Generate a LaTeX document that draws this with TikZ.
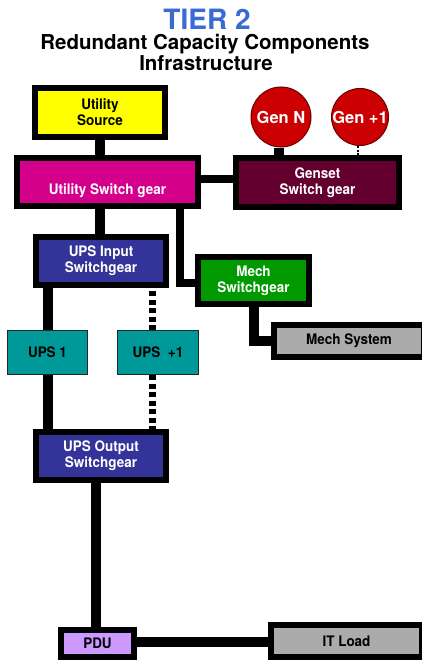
\documentclass[tikz,border=0pt]{standalone}
\usepackage{fontspec}
\setmainfont{TeX Gyre Heros}
\newfontfamily\condfont[FakeStretch=0.93]{TeX Gyre Heros}
\usetikzlibrary{backgrounds}
\definecolor{titleblue}{HTML}{3A6BD4}
\definecolor{cyellow}{HTML}{FFFF00}
\definecolor{cmagenta}{HTML}{D4008C}
\definecolor{cmaroon}{HTML}{630030}
\definecolor{cblue}{HTML}{333399}
\definecolor{cgreen}{HTML}{009900}
\definecolor{cteal}{HTML}{009999}
\definecolor{cgray}{HTML}{ABABAB}
\definecolor{clav}{HTML}{CC99FF}
\definecolor{cred}{HTML}{CC0000}
\begin{document}
\begin{tikzpicture}[x=1pt,y=-1pt,
  box/.style={draw=black,line width=6pt,inner sep=0pt,align=center,
    font=\condfont\bfseries\fontsize{14.5}{16}\selectfont},
  tbox/.style={draw=black!85,line width=1pt,fill=cteal,inner sep=0pt,align=center,
    font=\condfont\bfseries\fontsize{14.5}{16}\selectfont},
  gen/.style={circle,draw=black!60!red,line width=1pt,fill=cred,inner sep=0pt,
    text=white,font=\bfseries\fontsize{16.5}{18}\selectfont},
  conn/.style={line width=10pt,black},
  mconn/.style={line width=8pt,black},
  dotconn/.style={line width=7pt,black,dash pattern=on 5pt off 3.5pt},
  thindot/.style={line width=1.6pt,black,dash pattern=on 2pt off 1.5pt},
  lbl/.style={text=white,font=\condfont\bfseries\fontsize{14.5}{16}\selectfont}
]
\useasboundingbox (0,0) rectangle (422,661);

% titles
\node[anchor=base,text=titleblue,font=\bfseries\fontsize{28}{30}\selectfont,inner sep=0pt] (t1) at (207,30) {TIER 2};
\node[anchor=base,font=\bfseries\fontsize{20.5}{22}\selectfont,inner sep=0pt] (t2) at (205,50) {Redundant Capacity Components};
\node[anchor=base,font=\bfseries\fontsize{20.5}{22}\selectfont,inner sep=0pt] (t3) at (206,70.5) {Infrastructure};

% boxes
\node[box,fill=cyellow,minimum width=130.5pt,minimum height=48.5pt] (US) at (100,112.5) {Utility\\Source};
\node[box,fill=cmagenta,minimum width=181pt,minimum height=48pt,
  label={[lbl,yshift=-9pt]center:Utility Switch gear}] (USG) at (107.5,182) {};
\node[box,fill=cmaroon,text=white,minimum width=163pt,minimum height=49pt] (GSG) at (317.5,182.5) {Genset\\Switch gear};
\node[gen,minimum size=60pt] (GN) at (281,117) {Gen N};
\node[gen,minimum size=57pt] (GP) at (360,117) {Gen +1};
\node[box,fill=cblue,text=white,minimum width=130pt,minimum height=48pt] (UIN) at (101,261) {UPS Input\\Switchgear};
\node[box,fill=cgreen,text=white,minimum width=111pt,minimum height=47pt] (MSG) at (253.5,280.5) {Mech\\Switchgear};
\node[box,fill=cgray,minimum width=150pt,minimum height=32pt] (MS) at (349,341) {Mech System};
\node[tbox,minimum width=80pt,minimum height=44pt] (U1) at (47.5,352.5) {UPS 1};
\node[tbox,minimum width=81pt,minimum height=44pt] (UP) at (158,352.5) {UPS\ \ +1};
\node[box,fill=cblue,text=white,minimum width=130pt,minimum height=48pt] (UOUT) at (101,456) {UPS Output\\Switchgear};
\node[box,fill=clav,minimum width=73pt,minimum height=27pt] (PDU) at (97.5,643.5) {PDU};
\node[box,fill=cgray,minimum width=151pt,minimum height=32pt] (IT) at (346.5,641) {IT Load};

% connectors
\begin{scope}[on background layer]
\fill[white] (0,0) rectangle (422,661);
\draw[conn] (US.south) -- (US.south |- USG.north);
\draw[conn] ([xshift=-2pt]GN.south) -- ([xshift=-2pt]GN.south |- GSG.north);
\draw[thindot] ([xshift=-2pt]GP.south) -- ([xshift=-2pt]GP.south |- GSG.north);
\draw[mconn] ([yshift=3pt]USG.east) -- ([yshift=3pt]USG.east -| GSG.west);
\draw[conn] ([xshift=-1pt]UIN.north) -- ([xshift=-1pt]UIN.north |- USG.south);
\draw[mconn] ([xshift=72.5pt]USG.south) |- ([yshift=-2.5pt]MSG.west);
\draw[conn] (MSG.south) |- (MS.west);
\draw[conn] (U1.north) -- (U1.north |- UIN.south);
\draw[dotconn] ([xshift=-5.5pt]UP.north) -- ([xshift=-5.5pt]UP.north |- UIN.south);
\draw[conn] (U1.south) -- (U1.south |- UOUT.north);
\draw[dotconn] ([xshift=-5.5pt]UP.south) -- ([xshift=-5.5pt]UP.south |- UOUT.north);
\draw[conn] ([xshift=-2pt]PDU.north) -- ([xshift=-2pt]PDU.north |- UOUT.south);
\draw[conn] ([yshift=1.5pt]PDU.east) -- ([yshift=1.5pt]PDU.east -| IT.west);
\end{scope}
\end{tikzpicture}
\end{document}
